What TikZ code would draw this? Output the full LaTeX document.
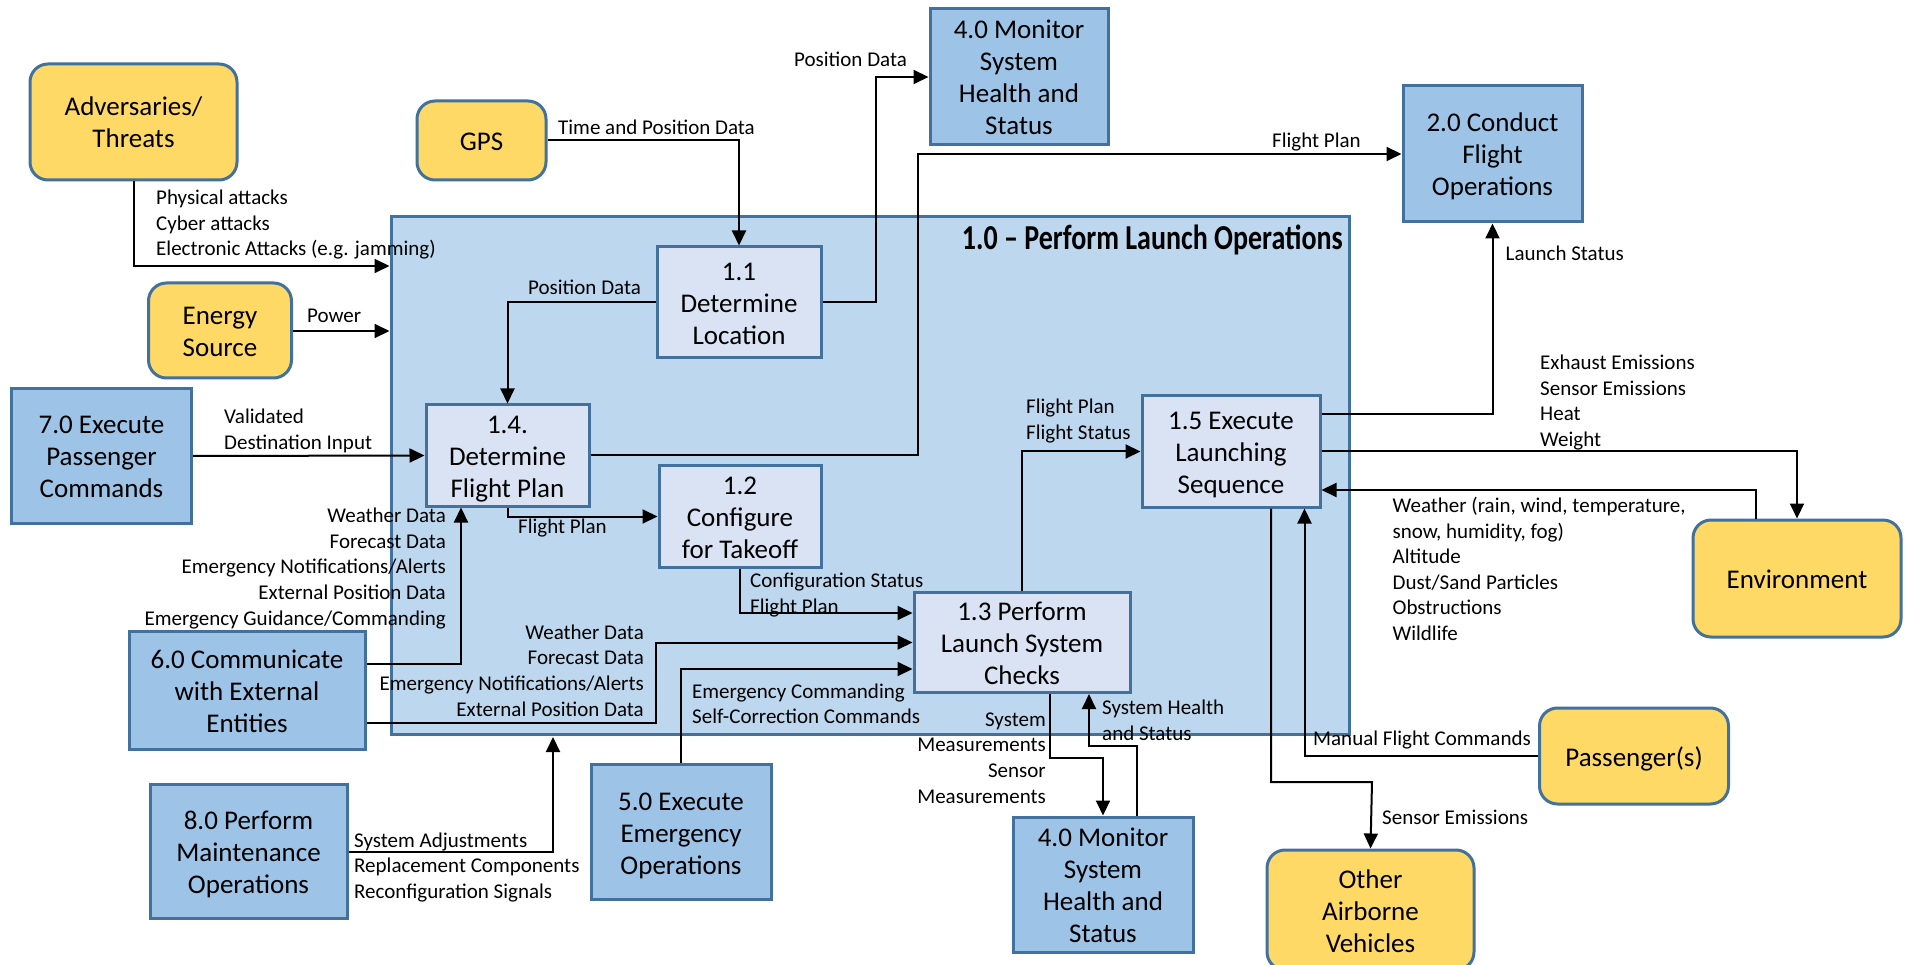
\documentclass[tikz,border=0pt]{standalone}
\usepackage{fontspec}
\setmainfont{Carlito}
\usetikzlibrary{arrows.meta}
\definecolor{ybox}{HTML}{FFD966}
\definecolor{bborder}{HTML}{41719C}
\definecolor{bbox}{HTML}{9DC3E6}
\definecolor{contfill}{HTML}{BDD7EE}
\definecolor{innerfill}{HTML}{DAE3F3}
\newcommand\bxfont{\fontsize{27}{32}\selectfont}
\newcommand\lbfont{\fontsize{21}{25.6}\selectfont}
% box text: first baseline raised by #1 above the node centre, lines 32pt apart
\newcommand\bxt[2]{\smash{\raisebox{#1}{\begin{tabular}[t]{@{}c@{}}#2\end{tabular}}}}
\begin{document}
\begin{tikzpicture}[x=1pt,y=-1pt,
  boxtext/.style={inner sep=0pt, font=\bxfont},
  extbox/.style={boxtext, draw=bborder, line width=3pt, fill=ybox, rounded corners=18pt},
  funcbox/.style={boxtext, draw=bborder, line width=3pt, fill=bbox},
  subbox/.style={boxtext, draw=bborder, line width=3pt, fill=innerfill},
  flow/.style={draw=black, line width=2pt, -{Triangle[length=15pt,width=14pt]}},
  lbl/.style={inner sep=0pt, font=\lbfont, align=left, anchor=north west, execute at begin node=\strut},
  rlbl/.style={inner sep=0pt, font=\lbfont, align=right, anchor=north east, execute at begin node=\strut}]
\fill[white] (0,0) rectangle (1907,965);
\useasboundingbox (0,0) rectangle (1907,965);

% container
\node[draw=bborder, line width=3pt, fill=contfill, minimum width=958pt, minimum height=517pt, inner sep=0pt] (cont) at (870,475.5) {};
\node[font=\fontsize{35}{40}\selectfont\bfseries, anchor=east, inner sep=0pt] (title) at (1343,240) {\scalebox{0.8}[1]{1.0 – Perform Launch Operations}};

% external entities
\node[extbox, minimum width=207pt, minimum height=116pt] (adv) at (133.5,122) {\bxt{6pt}{Adversaries/\\Threats}};
\node[extbox, minimum width=129pt, minimum height=79pt] (gps) at (481.5,140.5) {\bxt{-10pt}{GPS}};
\node[extbox, minimum width=143pt, minimum height=95pt] (energy) at (220,330.5) {\bxt{6pt}{Energy\\Source}};
\node[extbox, minimum width=208pt, minimum height=117pt] (env) at (1797,578.5) {\bxt{-10pt}{Environment}};
\node[extbox, minimum width=189pt, minimum height=96pt] (pass) at (1634,756) {\bxt{-10pt}{Passenger(s)}};
\node[extbox, minimum width=207pt, minimum height=120pt] (other) at (1370.5,910) {\bxt{22pt}{Other\\Airborne\\Vehicles}};

% functions
\node[funcbox, minimum width=180pt, minimum height=134pt] (p70) at (101.5,456) {\bxt{22pt}{7.0 Execute\\Passenger\\Commands}};
\node[funcbox, minimum width=236pt, minimum height=118pt] (p60) at (247,690) {\bxt{22pt}{6.0 Communicate\\with External\\Entities}};
\node[funcbox, minimum width=197pt, minimum height=134pt] (p80) at (248.5,851.5) {\bxt{22pt}{8.0 Perform\\Maintenance\\Operations}};
\node[funcbox, minimum width=180pt, minimum height=135pt] (p50) at (681,832) {\bxt{22pt}{5.0 Execute\\Emergency\\Operations}};
\node[funcbox, minimum width=180pt, minimum height=135pt] (p40b) at (1103,884.5) {\bxt{38pt}{4.0 Monitor\\System\\Health and\\Status}};
\node[funcbox, minimum width=178pt, minimum height=136pt] (p40t) at (1019,77) {\bxt{38pt}{4.0 Monitor\\System\\Health and\\Status}};
\node[funcbox, minimum width=179pt, minimum height=136pt] (p20) at (1492.5,154) {\bxt{22pt}{2.0 Conduct\\Flight\\Operations}};

% sub-functions
\node[subbox, minimum width=164pt, minimum height=111pt] (s11) at (739,302.5) {\bxt{22pt}{1.1\\Determine\\Location}};
\node[subbox, minimum width=163pt, minimum height=101pt] (s14) at (507.5,455.5) {\bxt{22pt}{1.4.\\Determine\\Flight Plan}};
\node[subbox, minimum width=162pt, minimum height=101pt] (s12) at (740,516.5) {\bxt{22pt}{1.2\\Configure\\for Takeoff}};
\node[subbox, minimum width=216pt, minimum height=100pt] (s13) at (1022,642.5) {\bxt{22pt}{1.3 Perform\\Launch System\\Checks}};
\node[subbox, minimum width=178pt, minimum height=111pt] (s15) at (1231,451.5) {\bxt{22pt}{1.5 Execute\\Launching\\Sequence}};

% connectors
\draw[flow] (adv.south) |- (cont.west |- 0,266);
\draw[flow] (gps.east) -| (s11.north);
\draw[flow] (energy.east |- 0,331) -- (cont.west |- 0,331);
\draw[flow] (s11.west) -| (s14.north);
\coordinate (b5) at (876,77);
\draw[flow] (s11.east) -| (b5) -- (p40t.west);
\coordinate (b6) at (918,154);
\draw[flow] (s14.east) -| (b6) -- (p20.west);
\draw[flow] (p70.east) -- (s14.west);
\draw[flow] (s14.south) |- (s12.west);
\draw[flow] (p60.east |- 0,663.5) -| (s14.south -| 461,0);
\coordinate (b10) at (656,642.5);
\draw[flow] (p60.east |- 0,722.5) -| (b10) -- (s13.west);
\draw[flow] (s12.south) |- (s13.west |- 0,613);
\draw[flow] (p50.north) |- (s13.west |- 0,669);
\draw[flow] (s13.north) |- (s15.west);
\coordinate (b14) at (1103,758);
\draw[flow] (s13.south -| 1050,0) |- (b14) -- (p40b.north);
\coordinate (b15) at (1089,746);
\draw[flow] (p40b.north -| 1137,0) |- (b15) -- (s13.south -| b15);
\draw[flow] (s15.east |- 0,414) -| (p20.south);
\draw[flow] (s15.east) -| (env.north);
\draw[flow] (env.north -| 1756,0) |- (s15.east |- 0,490);
\draw[flow] (pass.west) -| (s15.south -| 1304.5,0);
\coordinate (b20) at (1372,782);
\draw[flow] (s15.south -| 1271,0) |- (b20) -- (other.north);
\coordinate (e21) at (553,737);
\draw[flow] (p80.east) -| (e21);

% labels
\node[lbl] (l1) at (156,190) {Physical attacks\\Cyber attacks\\Electronic Attacks (e.g. jamming)};
\node[lbl] (l2) at (558,116.5) {Time and Position Data};
\node[lbl] (l3) at (307,304.5) {Power};
\node[lbl] (l4) at (528,276.5) {Position Data};
\node[lbl] (l5) at (794,48.5) {Position Data};
\node[lbl] (l6) at (1272,129.5) {Flight Plan};
\node[lbl] (l7) at (224,409) {Validated\\Destination Input};
\node[lbl] (l8) at (518,515.5) {Flight Plan};
\node[rlbl] (l9) at (446,508) {Weather Data\\Forecast Data\\Emergency Notifications/Alerts\\External Position Data\\Emergency Guidance/Commanding};
\node[rlbl] (l10) at (644,624.5) {Weather Data\\Forecast Data\\Emergency Notifications/Alerts\\External Position Data};
\node[lbl] (l11) at (750,573) {Configuration Status\\Flight Plan};
\node[lbl] (l12) at (692,683.5) {Emergency Commanding\\Self-Correction Commands};
\node[lbl] (l13) at (1026,399) {Flight Plan\\Flight Status};
\node[rlbl] (l14) at (1046,712.5) {System\\Measurements\\Sensor\\Measurements};
\node[lbl] (l15) at (1102,700) {System Health\\and Status};
\node[lbl] (l16) at (1505.5,242.5) {Launch Status};
\node[lbl] (l17) at (1540,355) {Exhaust Emissions\\Sensor Emissions\\Heat\\Weight};
\node[lbl] (l18) at (1392.4,497) {Weather (rain, wind, temperature,\\snow, humidity, fog)\\Altitude\\Dust/Sand Particles\\Obstructions\\Wildlife};
\node[lbl] (l19) at (1313,727.5) {Manual Flight Commands};
\node[lbl] (l20) at (1382,806) {Sensor Emissions};
\node[lbl] (l21) at (354,832.5) {System Adjustments\\Replacement Components\\Reconfiguration Signals};
\end{tikzpicture}
\end{document}
